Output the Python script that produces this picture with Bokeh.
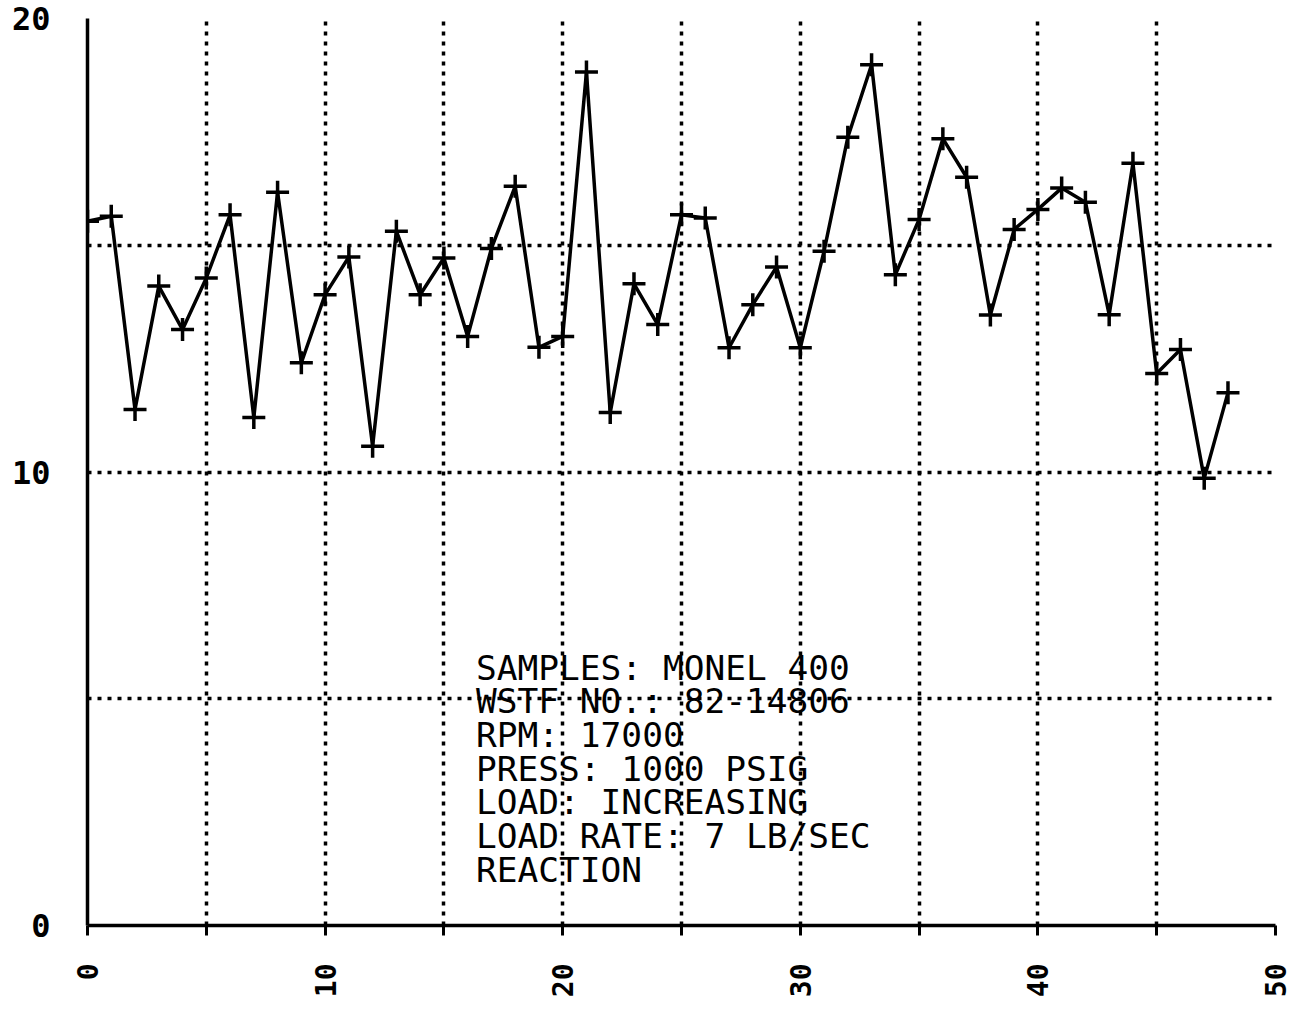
import math
from bokeh.plotting import figure
from bokeh.models import FixedTicker, Range1d
from bokeh.core.properties import value
from bokeh.embed import file_html
from bokeh.resources import INLINE

# ---- data ----
sample_x = list(range(0, 49))
sample_y = [15.53, 15.64, 11.38, 14.10, 13.14, 14.28, 15.67, 11.20, 16.17, 12.41,
            13.91, 14.74, 10.57, 15.31, 13.91, 14.72, 12.99, 14.93, 16.30, 12.75,
            12.99, 18.82, 11.31, 14.15, 13.25, 15.67, 15.60, 12.74, 13.69, 14.52,
            12.74, 14.87, 17.38, 18.98, 14.35, 15.57, 17.35, 16.50, 13.46, 15.35,
            15.79, 16.26, 15.95, 13.47, 16.81, 12.17, 12.70, 9.86, 11.75]

x_ticks = [0, 5, 10, 15, 20, 25, 30, 35, 40, 45, 50]
x_tick_labels = {0: "0", 10: "10", 20: "20", 30: "30", 40: "40", 50: "50"}
y_ticks = [0, 10, 20]
x_grid = [5, 10, 15, 20, 25, 30, 35, 40, 45, 50]
y_grid = [5, 10, 15, 20]

note_lines = [
    "SAMPLES: MONEL 400",
    "WSTF NO.: 82-14806",
    "RPM: 17000",
    "PRESS: 1000 PSIG",
    "LOAD: INCREASING",
    "LOAD RATE: 7 LB/SEC",
    "REACTION",
]

# ---- figure ----
p = figure(width=1296, height=1010, output_backend="svg", toolbar_location=None,
           x_range=Range1d(0, 50), y_range=Range1d(0, 20),
           min_border_left=87, min_border_right=21, min_border_top=18,
           min_border_bottom=85)
p.outline_line_color = None
p.background_fill_color = "white"
p.border_fill_color = "white"

# grids (dotted)
p.xgrid.ticker = FixedTicker(ticks=x_grid)
p.ygrid.ticker = FixedTicker(ticks=y_grid)
for g in (p.xgrid, p.ygrid):
    g.grid_line_color = "black"
    g.grid_line_width = 3.5
    g.grid_line_dash = "4 6"
    g.grid_line_alpha = 1.0

# x axis
xa = p.xaxis[0]
xa.ticker = FixedTicker(ticks=x_ticks)
xa.major_label_overrides = {t: x_tick_labels.get(t, "") for t in x_ticks}
xa.axis_line_width = 3.5
xa.axis_line_color = "black"
xa.major_tick_line_width = 3
xa.major_tick_out = 10
xa.major_tick_in = 0
xa.minor_tick_line_color = None
xa.major_label_orientation = math.pi / 2
xa.major_label_standoff = 28
xa.major_label_text_font = "DejaVu Sans Mono"
xa.major_label_text_font_style = "bold"
xa.major_label_text_font_size = "28px"
xa.major_label_text_color = "black"

# y axis
ya = p.yaxis[0]
ya.ticker = FixedTicker(ticks=y_ticks)
ya.axis_line_width = 3.5
ya.axis_line_color = "black"
ya.major_tick_line_color = None
ya.major_tick_out = 0
ya.major_tick_in = 0
ya.minor_tick_line_color = None
ya.major_label_standoff = 37
ya.major_label_text_font = "DejaVu Sans Mono"
ya.major_label_text_font_style = "bold"
ya.major_label_text_font_size = "32px"
ya.major_label_text_color = "black"

# data
p.line(sample_x, sample_y, line_color="black", line_width=3.5)
p.scatter(sample_x, sample_y, marker="cross", size=23, line_color="black",
          line_width=3.5)

# annotation block
px_per_unit_y = 907 / 20.0
start_y = (925 - 667) / px_per_unit_y
step = 33.7 / px_per_unit_y
note_x = [16.35] * len(note_lines)
note_y = [start_y - i * step for i in range(len(note_lines))]
p.text(note_x, note_y, text=note_lines, text_font=value("DejaVu Sans Mono"),
       text_font_size="34.5px", text_baseline="middle", text_align="left",
       text_color="black")

open("out.html", "w").write(file_html(p, INLINE))
